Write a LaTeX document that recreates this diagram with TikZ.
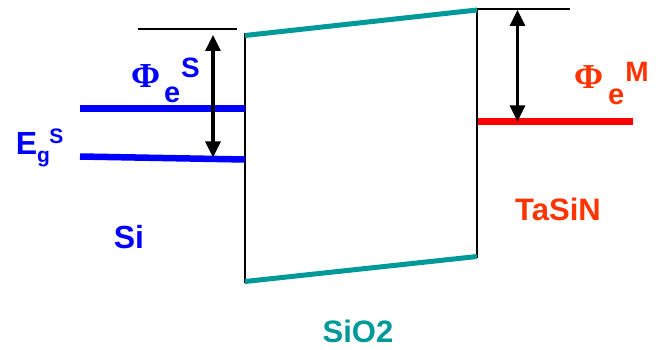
\documentclass[tikz,border=0pt]{standalone}
\usepackage{fontspec}
\setmainfont{Liberation Sans}
\newfontfamily\phifont{Liberation Serif}
\usetikzlibrary{arrows.meta}
\definecolor{oxteal}{RGB}{0,153,153}
\definecolor{mred}{RGB}{255,51,0}
\definecolor{lred}{RGB}{255,0,0}
\definecolor{sblue}{RGB}{0,0,255}
\begin{document}
\begin{tikzpicture}[x=1pt,y=-1pt,
  thinline/.style={draw=black,line width=1.6pt},
  bandline/.style={line width=6.5pt},
  oxline/.style={draw=oxteal,line width=5pt},
  dimarrow/.style={line width=3.2pt,{Triangle[length=16pt,width=15pt]}-{Triangle[length=16pt,width=15pt]}},
  lbl/.style={inner sep=0pt,anchor=base west,font=\bfseries\fontsize{32}{36}\selectfont},
  lblc/.style={inner sep=0pt,anchor=base,text depth=0pt,font=\bfseries\fontsize{31}{36}\selectfont}]
\useasboundingbox (0,0) rectangle (656,350);
% coordinates
\coordinate (oxTL) at (245,35.5);
\coordinate (oxTR) at (477,10);
\coordinate (oxBL) at (245,281.5);
\coordinate (oxBR) at (477,256.5);
\coordinate (wallLt) at (245,33);
\coordinate (wallLb) at (245,283);
\coordinate (wallRt) at (477,8.5);
\coordinate (wallRb) at (477,258);
\coordinate (refLa) at (138,29.3);
\coordinate (refLb) at (237,29.3);
\coordinate (refRa) at (477,9.3);
\coordinate (refRb) at (570,9.3);
\coordinate (ecL) at (80,108.5);
\coordinate (ecR) at (245,108.5);
\coordinate (evL) at (80,156.5);
\coordinate (evR) at (245,159.5);
\coordinate (fmL) at (478,121.5);
\coordinate (fmR) at (633,121.5);
\coordinate (arLt) at (213,35);
\coordinate (arLb) at (213,157.5);
\coordinate (arRt) at (517.5,10);
\coordinate (arRb) at (517.5,121.5);
% walls
\draw[thinline] (wallLt) -- (wallLb);
\draw[thinline] (wallRt) -- (wallRb);
\draw[thinline] (refLa) -- (refLb);
\draw[thinline] (refRa) -- (refRb);
% oxide band edges
\draw[oxline] (oxTL) -- (oxTR);
\draw[oxline] (oxBL) -- (oxBR);
% Si bands
\draw[bandline,draw=sblue] (ecL) -- (ecR);
\draw[bandline,draw=sblue] (evL) -- (evR);
% metal Fermi level
\draw[bandline,draw=lred] (fmL) -- (fmR);
% arrows
\draw[dimarrow] (arLt) -- (arLb);
\draw[dimarrow] (arRt) -- (arRb);
% labels
\node[lbl,text=sblue] (phiS) at (131,88)
  {{\phifont\fontsize{35}{36}\selectfont Φ}\kern4pt\raisebox{-15pt}{\fontsize{29}{30}\selectfont e}\kern0.8pt\raisebox{10pt}{\fontsize{28}{30}\selectfont S}};
\node[lbl,text=mred] (phiM) at (574,89)
  {{\phifont\fontsize{35}{36}\selectfont Φ}\kern5pt\raisebox{-16pt}{\fontsize{29}{30}\selectfont e}\kern1pt\raisebox{7pt}{\fontsize{28}{30}\selectfont M}};
\node[lbl,text=sblue] (egS) at (15.7,155)
  {E\raisebox{-8pt}{\fontsize{21}{24}\selectfont g}\kern-0.8pt\raisebox{12pt}{\fontsize{21}{24}\selectfont S}};
\node[lblc,text=sblue,font=\bfseries\fontsize{32}{36}\selectfont] (si) at (129,248) {Si};
\node[lblc,text=mred] (tasin) at (558,220) {TaSiN};
\node[lblc,text=oxteal] (sio2) at (358,342) {SiO2};
\end{tikzpicture}
\end{document}
